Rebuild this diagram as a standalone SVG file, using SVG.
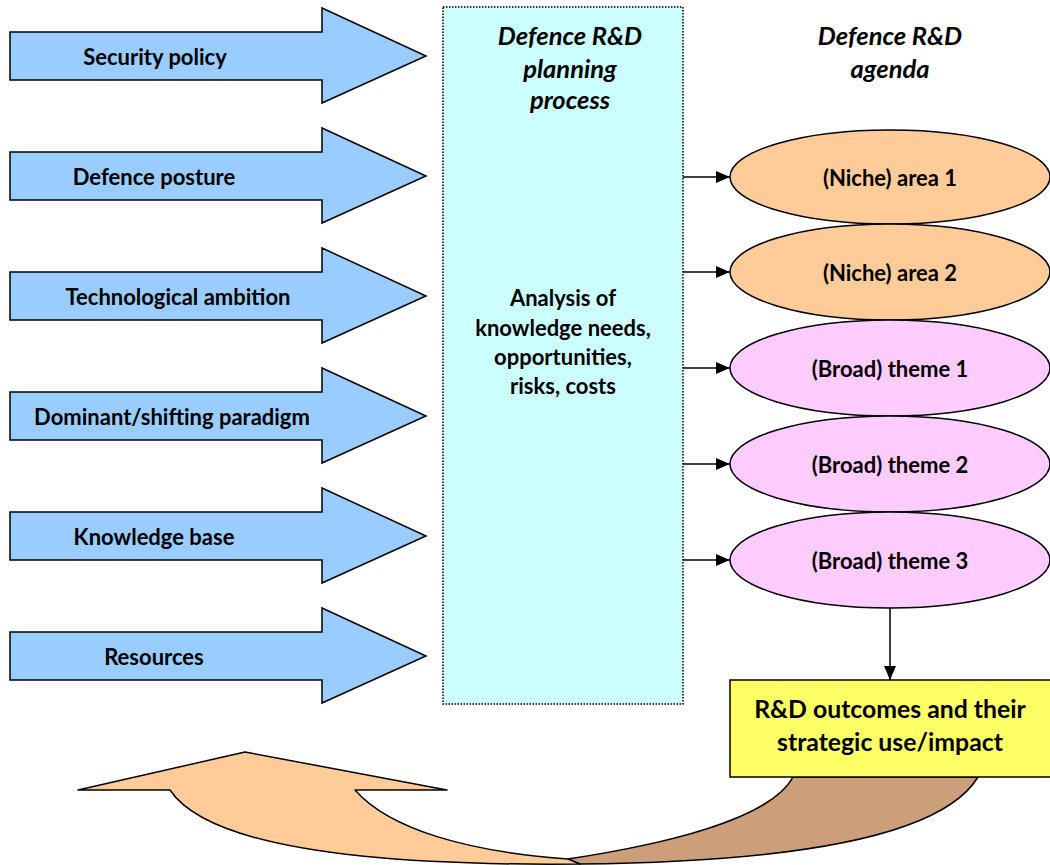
<svg xmlns="http://www.w3.org/2000/svg" width="1050" height="865" viewBox="0 0 1050 865">
<defs>
<style>
.t{font-family:Lato,"Liberation Sans",sans-serif;font-weight:bold;font-size:22px;fill:#000;text-anchor:middle;dominant-baseline:central}
.ti{font-family:Lato,"Liberation Sans",sans-serif;font-weight:bold;font-style:italic;font-size:25.5px;fill:#000;text-anchor:middle;dominant-baseline:central}
.big{font-size:24.8px}
.blue{fill:#99CCFF;stroke:#000;stroke-width:1.5}
.niche{fill:#FFCC99;stroke:#000;stroke-width:1.5}
.broad{fill:#FFCCFF;stroke:#000;stroke-width:1.5}
.conn{stroke:#000;stroke-width:1.5;fill:none}
</style>
<polygon id="bar" points="10,32 322,32 322,8 426,56 322,103 322,80 10,80"/>
<marker id="ah" markerWidth="14" markerHeight="12" refX="14" refY="6" orient="auto" markerUnits="userSpaceOnUse">
<polygon points="0,0 14,6 0,12" fill="#000"/>
</marker>
</defs>
<rect width="1050" height="865" fill="#fff"/>

<g id="in-security"><use href="#bar" class="blue"/><text class="t" x="155" y="56">Security policy</text></g>
<g id="in-posture"><use href="#bar" class="blue" y="120"/><text class="t" x="154" y="176">Defence posture</text></g>
<g id="in-tech"><use href="#bar" class="blue" y="240"/><text class="t" x="178" y="296">Technological ambition</text></g>
<g id="in-paradigm"><use href="#bar" class="blue" y="360"/><text class="t" x="172" y="416">Dominant/shifting paradigm</text></g>
<g id="in-knowledge"><use href="#bar" class="blue" y="480"/><text class="t" x="154" y="536">Knowledge base</text></g>
<g id="in-resources"><use href="#bar" class="blue" y="600"/><text class="t" x="154" y="656">Resources</text></g>

<g id="process">
<rect x="443" y="7" width="240" height="697" fill="#CCFFFF" stroke="#000" stroke-width="1.5" stroke-dasharray="1.5,1.5"/>
<text class="ti" x="570" y="35">Defence R&amp;D</text>
<text class="ti" x="570" y="68">planning</text>
<text class="ti" x="570" y="99">process</text>
<text class="t" x="563" y="297">Analysis of</text>
<text class="t" x="563" y="327">knowledge needs,</text>
<text class="t" x="563" y="356">opportunities,</text>
<text class="t" x="563" y="385">risks, costs</text>
</g>

<g id="agenda-title">
<text class="ti" x="890" y="35">Defence R&amp;D</text>
<text class="ti" x="890" y="68">agenda</text>
</g>

<g id="niche1"><ellipse class="niche" cx="890" cy="177" rx="160" ry="47"/><text class="t" x="890" y="177">(Niche) area 1</text></g>
<g id="niche2"><ellipse class="niche" cx="890" cy="272" rx="160" ry="48"/><text class="t" x="890" y="272">(Niche) area 2</text></g>
<g id="broad1"><ellipse class="broad" cx="890" cy="368" rx="160" ry="48"/><text class="t" x="890" y="368">(Broad) theme 1</text></g>
<g id="broad2"><ellipse class="broad" cx="890" cy="464" rx="160" ry="48"/><text class="t" x="890" y="464">(Broad) theme 2</text></g>
<g id="broad3"><ellipse class="broad" cx="890" cy="560" rx="160" ry="48"/><text class="t" x="890" y="560">(Broad) theme 3</text></g>

<g id="feedback">
<path d="M793,777 L978,777 C940,840 780,862 580,864 L568,859 C660,845 770,820 793,777 Z" fill="#CC9F7A" stroke="#000" stroke-width="1.5" stroke-linejoin="round"/>
<path d="M78,790 L245,752 L447,790 L355,790 C390,830 470,852 568,859 L580,864 C380,866 210,850 170,790 Z" fill="#FFCC99" stroke="#000" stroke-width="1.5" stroke-linejoin="round"/>
</g>

<g id="outcomes">
<rect x="730" y="680" width="322" height="97" fill="#FFFF66" stroke="#000" stroke-width="1.5"/>
<text class="t big" x="890" y="708">R&amp;D outcomes and their</text>
<text class="t big" x="890" y="741">strategic use/impact</text>
</g>

<g id="connectors">
<line class="conn" x1="683" y1="177" x2="730" y2="177" marker-end="url(#ah)"/>
<line class="conn" x1="683" y1="272" x2="730" y2="272" marker-end="url(#ah)"/>
<line class="conn" x1="683" y1="368" x2="730" y2="368" marker-end="url(#ah)"/>
<line class="conn" x1="683" y1="464" x2="730" y2="464" marker-end="url(#ah)"/>
<line class="conn" x1="683" y1="560" x2="730" y2="560" marker-end="url(#ah)"/>
<line class="conn" x1="890" y1="608" x2="890" y2="680" marker-end="url(#ah)"/>
</g>
</svg>
